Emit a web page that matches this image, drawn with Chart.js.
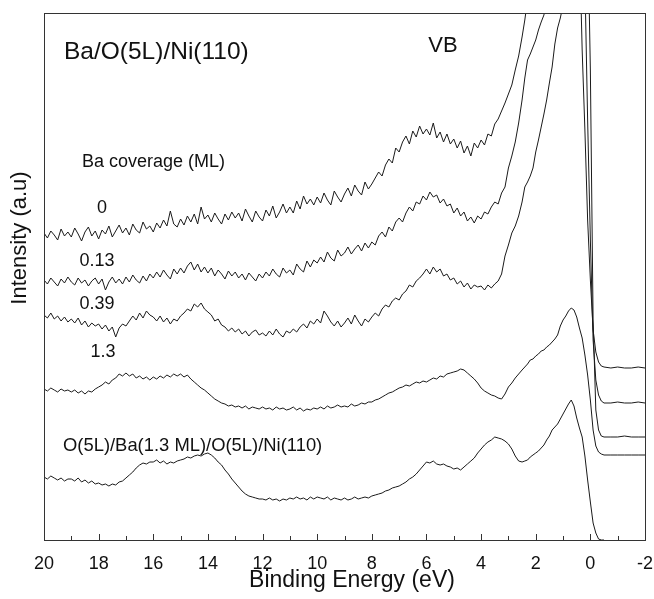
<!DOCTYPE html>
<html>
<head>
<meta charset="utf-8">
<title>Ba/O(5L)/Ni(110) VB</title>
<script src="https://cdn.jsdelivr.net/npm/chart.js@4.4.1/dist/chart.umd.min.js"></script>
<style>
    html, body { margin: 0; padding: 0; background: #fff; }
    #wrap { width: 654px; height: 599px; }
</style>
</head>
<body>
<div id="wrap"><canvas id="vbChart" width="654" height="599"></canvas></div>
<script>
// Binding energy grid (eV): 0.125 steps down to 2.5, 0.1 near the Fermi edge
var energy = [
    20, 19.875, 19.75, 19.625, 19.5, 19.375, 19.25, 19.125,
    19, 18.875, 18.75, 18.625, 18.5, 18.375, 18.25, 18.125,
    18, 17.875, 17.75, 17.625, 17.5, 17.375, 17.25, 17.125,
    17, 16.875, 16.75, 16.625, 16.5, 16.375, 16.25, 16.125,
    16, 15.875, 15.75, 15.625, 15.5, 15.375, 15.25, 15.125,
    15, 14.875, 14.75, 14.625, 14.5, 14.375, 14.25, 14.125,
    14, 13.875, 13.75, 13.625, 13.5, 13.375, 13.25, 13.125,
    13, 12.875, 12.75, 12.625, 12.5, 12.375, 12.25, 12.125,
    12, 11.875, 11.75, 11.625, 11.5, 11.375, 11.25, 11.125,
    11, 10.875, 10.75, 10.625, 10.5, 10.375, 10.25, 10.125,
    10, 9.875, 9.75, 9.625, 9.5, 9.375, 9.25, 9.125,
    9, 8.875, 8.75, 8.625, 8.5, 8.375, 8.25, 8.125,
    8, 7.875, 7.75, 7.625, 7.5, 7.375, 7.25, 7.125,
    7, 6.875, 6.75, 6.625, 6.5, 6.375, 6.25, 6.125,
    6, 5.875, 5.75, 5.625, 5.5, 5.375, 5.25, 5.125,
    5, 4.875, 4.75, 4.625, 4.5, 4.375, 4.25, 4.125,
    4, 3.875, 3.75, 3.625, 3.5, 3.375, 3.25, 3.125,
    3, 2.875, 2.75, 2.625, 2.5,
    2.4, 2.3, 2.2, 2.1, 2.0, 1.9, 1.8, 1.7, 1.6, 1.5,
    1.4, 1.3, 1.2, 1.1, 1.0, 0.9, 0.8, 0.7, 0.6, 0.5,
    0.4, 0.3, 0.2, 0.1, 0, -0.1, -0.2, -0.3, -0.4, -0.5,
    -0.75, -1, -1.25, -1.5, -1.75, -2
];

// Intensity (a.u.), the curves are stacked with offsets as in the figure
var cov0 = [
    307, 302, 309, 305, 300, 311, 304, 308,
    303, 312, 306, 299, 308, 313, 304, 309,
    301, 310, 306, 314, 303, 309, 315, 307,
    312, 305, 316, 310, 307, 318, 311, 314,
    308, 317, 312, 320, 314, 329, 316, 313,
    321, 315, 324, 318, 326, 316, 333, 321,
    325, 318, 327, 321, 316, 326, 320, 328,
    322, 327, 319, 331, 324, 318, 329, 323,
    319, 330, 324, 334, 322, 328, 336, 327,
    333, 327, 339, 331, 344, 336, 341, 335,
    343, 337, 347, 340, 335, 349, 343, 338,
    346, 352, 344, 355, 349, 345, 358, 351,
    356, 362, 368, 364, 375, 381, 377, 392,
    388, 398, 404, 396, 409, 403, 414, 406,
    411, 405, 417, 402, 408, 398, 406, 396,
    401, 392, 399, 387, 394, 384, 397, 392,
    400, 395, 406, 404, 416, 421, 429, 437,
    446, 455, 470, 484, 503,
    520, 540, 560, 580, 600, 620, 640, 660, 680, 700,
    720, 740, 750, 760, 760, 760, 760, 750, 720, 680,
    600, 490, 410, 320, 260, 210, 188, 178, 174, 173,
    172, 173, 172, 172, 173, 172
];

var cov013 = [
    260, 256, 262, 258, 254, 261, 257, 263,
    258, 255, 262, 257, 260, 254, 259, 262,
    256, 261, 250, 258, 263, 257, 261, 256,
    263, 258, 265, 260, 257, 264, 259, 266,
    262, 268, 263, 270, 265, 261, 271, 266,
    272, 267, 274, 278, 270, 276, 268, 273,
    267, 272, 264, 270, 266, 261, 269, 264,
    268, 262, 266, 260, 267, 263, 259, 266,
    262, 268, 264, 271, 266, 263, 272, 267,
    270, 265, 276, 271, 268, 279, 273, 280,
    277, 283, 278, 288, 282, 279, 290, 284,
    287, 293, 286, 291, 295, 289, 297, 292,
    298, 295, 304, 308, 303, 313, 309, 318,
    322, 318, 327, 333, 329, 338, 336, 344,
    340, 348, 343, 345, 337, 341, 334, 336,
    327, 332, 324, 328, 319, 323, 317, 324,
    321, 328, 326, 333, 338, 336, 347, 353,
    372, 384, 398, 417, 440,
    462, 480, 486, 493, 500, 510, 518, 525, 540, 560,
    590, 620, 650, 680, 700, 720, 740, 750, 760, 760,
    740, 680, 560, 420, 300, 200, 160, 145, 139, 137,
    137, 138, 137, 137, 138, 137
];

var cov039 = [
    225, 222, 227, 221, 224, 219, 223, 218,
    221, 217, 222, 215, 219, 213, 217, 214,
    216, 211, 215, 209, 213, 203, 212, 216,
    214, 219, 224, 220, 227, 222, 229, 225,
    223, 219, 224, 218, 222, 216, 221, 219,
    224, 227, 231, 229, 236, 233, 237, 231,
    228, 225, 219, 221, 215, 213, 209, 212,
    208, 211, 206, 209, 204, 208, 210, 205,
    207, 204, 209, 205, 211, 206, 203, 209,
    207, 211, 208, 213, 216, 212, 219, 216,
    221, 217, 229, 224, 218, 214, 219, 213,
    217, 222, 216, 225, 219, 214, 221, 218,
    223, 227, 224, 231, 235, 233, 239, 242,
    240, 246, 249, 255, 253, 259, 262, 266,
    271, 266, 273, 268, 271, 264, 266, 260,
    262, 256, 259, 253, 257, 251, 255, 253,
    254, 250, 255, 252, 256, 259, 266, 284,
    295, 307, 314, 324, 338,
    353, 358, 364, 372, 388, 400, 413, 426, 440, 457,
    473, 496, 512, 522, 535, 560, 590, 620, 650, 680,
    700, 720, 700, 620, 470, 220, 130, 110, 104, 103,
    103, 103, 104, 103, 103, 103
];

var cov13 = [
    151, 149, 152, 150, 148, 151, 149, 150,
    148, 150, 147, 149, 146, 149, 148, 151,
    153, 155, 158, 156, 160, 162, 166, 164,
    167, 164, 166, 162, 164, 161, 163, 160,
    163, 161, 164, 162, 165, 163, 166, 164,
    166, 163, 165, 161, 158, 155, 152, 150,
    147, 144, 141, 139, 137, 136, 134, 135,
    133, 134, 132, 134, 131, 133, 132, 131,
    133, 131, 132, 130, 133, 131, 132, 130,
    131, 133, 130, 132, 129, 131, 130, 132,
    131, 133, 131, 134, 132, 133, 135, 133,
    134, 133, 136, 134, 135, 137, 136, 138,
    138, 140, 141, 143, 145, 147, 148, 150,
    152, 153, 155, 154, 156, 158, 157, 159,
    158, 160, 162, 161, 164, 163, 166, 167,
    168, 169, 171, 170, 167, 164, 161, 157,
    152, 149, 147, 145, 144, 142, 141, 146,
    153, 157, 162, 166, 170,
    173, 176, 180, 181, 184, 186, 189, 190, 193, 195,
    198, 201, 205, 214, 220, 224, 229, 232, 230, 223,
    212, 202, 185, 165, 140, 110, 94, 88, 86, 85,
    85, 85, 85, 85, 85, 85
];

var oBaO = [
    63, 61, 64, 62, 60, 62, 59, 61,
    61, 59, 62, 58, 60, 57, 59, 56,
    57, 55, 56, 54, 56, 55, 58, 59,
    62, 65, 68, 72, 75, 77, 76, 78,
    78, 80, 77, 79, 76, 78, 77, 79,
    80, 81, 83, 82, 84, 85, 84, 86,
    87, 85, 82, 78, 75, 70, 66, 61,
    57, 53, 49, 46, 44, 43, 42, 41,
    41, 40, 42, 40, 41, 39, 41, 40,
    42, 41, 43, 41, 42, 40, 43, 41,
    43, 42, 41, 43, 40, 42, 41, 40,
    42, 40, 41, 43, 41, 42, 43, 42,
    44, 45, 46, 47, 49, 50, 52, 53,
    54, 56, 58, 61, 63, 66, 70, 74,
    78, 77, 79, 76, 75, 76, 74, 73,
    71, 72, 70, 73, 76, 79, 82, 87,
    91, 95, 98, 100, 103, 102, 101, 99,
    96, 91, 84, 79, 78,
    79, 80, 83, 85, 87, 89, 92, 95, 100, 104,
    110, 113, 116, 121, 126, 131, 136, 140, 134, 122,
    112, 103, 84, 60, 38, 17, 7, 1, 0, 0,
    null, null, null, null, null, null
];

var seriesNames = ['0', '0.13', '0.39', '1.3', 'O(5L)/Ba(1.3 ML)/O(5L)/Ni(110)'];
var seriesData = [cov0, cov013, cov039, cov13, oBaO];

var FONT = "'Liberation Sans', Arial, sans-serif";
var INK = '#1a1a1a';

// Text labels inside the plot: [text, x, y, size, align]
var notes = [
    ['Ba/O(5L)/Ni(110)', 64, 52, 24.5, 'left'],
    ['VB', 443, 46, 22, 'center'],
    ['Ba coverage (ML)', 82, 162, 18, 'left'],
    ['0', 102, 208, 18, 'center'],
    ['0.13', 97, 261, 18, 'center'],
    ['0.39', 97, 304, 18, 'center'],
    ['1.3', 103, 352, 18, 'center'],
    ['O(5L)/Ba(1.3 ML)/O(5L)/Ni(110)', 63, 446, 18.4, 'left']
];

var datasets = seriesData.map(function (arr, i) {
    return {
        label: seriesNames[i],
        data: energy.map(function (e, k) { return { x: e, y: arr[k] }; }),
        borderColor: INK,
        borderWidth: 1,
        pointRadius: 0,
        tension: 0,
        fill: false
    };
});

// Frame, inward ticks and all the text
var decorPlugin = {
    id: 'decor',
    afterDatasetsDraw: function (chart) {
        var ctx = chart.ctx;
        var a = chart.chartArea;
        var xs = chart.scales.x;
        ctx.save();
        ctx.strokeStyle = '#333';
        ctx.lineWidth = 1;
        ctx.strokeRect(a.left + 0.5, a.top + 0.5, a.right - a.left, a.bottom - a.top);

        // tick marks pointing into the plot
        for (var v = -2; v <= 20; v++) {
            var px = Math.round(xs.getPixelForValue(v)) + 0.5;
            var len = (v % 2 === 0) ? 6 : 4;
            ctx.beginPath();
            ctx.moveTo(px, a.bottom);
            ctx.lineTo(px, a.bottom - len);
            ctx.stroke();
        }

        ctx.fillStyle = '#111';
        ctx.textBaseline = 'middle';
        notes.forEach(function (n) {
            ctx.font = n[3] + 'px ' + FONT;
            ctx.textAlign = n[4];
            ctx.fillText(n[0], n[1], n[2]);
        });

        // axis titles
        ctx.font = '23px ' + FONT;
        ctx.textAlign = 'center';
        ctx.fillText('Binding Energy (eV)', 352, 581);

        ctx.translate(20, 238);
        ctx.rotate(-Math.PI / 2);
        ctx.font = '22px ' + FONT;
        ctx.fillText('Intensity (a.u)', 0, 0);
        ctx.restore();
    }
};

var vbChart = new Chart(document.getElementById('vbChart').getContext('2d'), {
    type: 'line',
    data: { datasets: datasets },
    options: {
        responsive: false,
        animation: false,
        layout: { padding: { left: 44, right: 9, top: 13, bottom: 0 } },
        plugins: {
            legend: { display: false },
            tooltip: { enabled: false }
        },
        scales: {
            x: {
                type: 'linear',
                reverse: true,
                min: -2,
                max: 20,
                grid: { display: false, drawTicks: false },
                border: { display: false },
                ticks: {
                    stepSize: 1,
                    autoSkip: false,
                    maxRotation: 0,
                    padding: 13,
                    color: '#111',
                    font: { family: FONT, size: 18 },
                    callback: function (value) {
                        return (value % 2 === 0) ? String(value) : '';
                    }
                },
                afterFit: function (scale) {
                    scale.height = 59;
                    scale.paddingLeft = 0;
                    scale.paddingRight = 0;
                }
            },
            y: {
                display: false,
                min: 0,
                max: 527
            }
        }
    },
    plugins: [decorPlugin]
});
</script>
</body>
</html>
